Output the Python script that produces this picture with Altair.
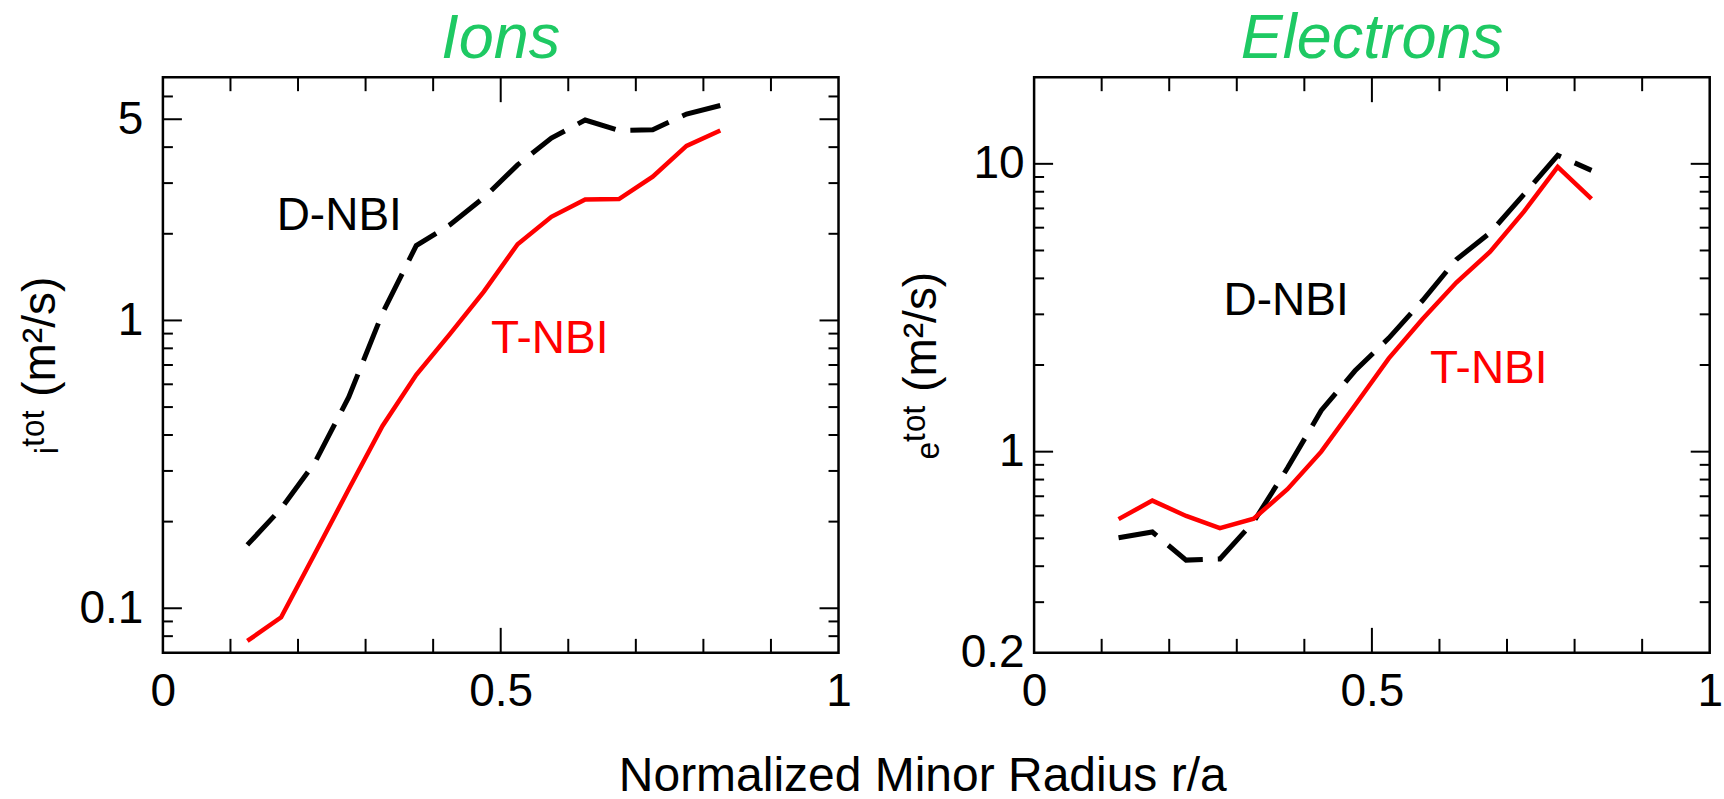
import altair as alt
import pandas as pd

FONT = "Liberation Sans"
GREEN = "#1ec963"

# ---- data ----
r = [0.125, 0.175, 0.225, 0.275, 0.325, 0.375, 0.425, 0.475,
     0.525, 0.575, 0.625, 0.675, 0.725, 0.775, 0.825]

ions_d = [0.166, 0.222, 0.321, 0.541, 1.06, 1.82, 2.15, 2.67,
          3.47, 4.30, 4.97, 4.57, 4.60, 5.21, 5.58]
ions_t = [0.077, 0.093, 0.155, 0.259, 0.43, 0.647, 0.898, 1.26,
          1.84, 2.29, 2.63, 2.64, 3.16, 4.04, 4.57]

elec_d = [0.502, 0.526, 0.42, 0.424, 0.571, 0.877, 1.39, 1.91,
          2.48, 3.35, 4.65, 5.76, 7.83, 10.7, 9.49]
elec_t = [0.583, 0.676, 0.598, 0.542, 0.585, 0.741, 1.0, 1.45,
          2.11, 2.89, 3.87, 4.95, 6.82, 9.76, 7.55]

# tick values
x_labels = [0, 0.5, 1]
x_major = [0.5]
x_minor = [0.1, 0.2, 0.3, 0.4, 0.6, 0.7, 0.8, 0.9]

ions_domain = [0.07, 7]
ions_ylabels = [0.1, 1, 5]
ions_ymajor = [0.1, 1, 5]
ions_yminor = [0.08, 0.09, 0.2, 0.3, 0.4, 0.5, 0.6, 0.7, 0.8, 0.9, 2, 3, 4, 6]

elec_domain = [0.2, 20]
elec_ylabels = [0.2, 1, 10]
elec_ymajor = [1, 10]
elec_yminor = [0.3, 0.4, 0.5, 0.6, 0.7, 0.8, 0.9, 2, 3, 4, 5, 6, 7, 8, 9]

ann_labels = ["D-NBI", "T-NBI"]
ann_colors = ["black", "red"]
ions_ann_x = [0.261, 0.5725]
ions_ann_y = [2.30, 0.865]
elec_ann_x = [0.373, 0.673]
elec_ann_y = [3.35, 1.93]

W, H = 676, 576
MAJ, MIN = 19, 10


def panel(title, dvals, tvals, ydomain, ylabels, ymajor, yminor, ytitle,
          ann_x, ann_y, label_pad):
    xs = alt.Scale(domain=[0, 1], nice=False, zero=False)
    ys = alt.Scale(type="log", domain=ydomain, nice=False)
    xaxis = alt.Axis(values=x_labels, format="~g", title=None, domain=False,
                     ticks=False, tickSize=0, grid=False, labelFlush=False,
                     labelOverlap=False, labelFontSize=46, labelFont=FONT,
                     labelColor="black", labelPadding=17)
    yaxis = alt.Axis(values=ylabels, format="~g", title=ytitle, domain=False,
                     ticks=False, tickSize=0, grid=False, labelFlush=False,
                     labelOverlap=False, labelFontSize=46, labelFont=FONT,
                     labelColor="black", labelPadding=label_pad,
                     titleFontSize=46, titleFont=FONT, titleFontWeight="normal",
                     titleColor="black", titlePadding=15)

    def X(f="r"):
        return alt.X(f"{f}:Q", scale=xs, axis=xaxis)

    def Y(f="value"):
        return alt.Y(f"{f}:Q", scale=ys, axis=yaxis)

    ddf = pd.DataFrame({"r": r, "value": dvals})
    tdf = pd.DataFrame({"r": r, "value": tvals})
    line_d = alt.Chart(ddf).mark_line(color="black", strokeWidth=5,
                                      strokeDash=[40, 15]).encode(x=X(), y=Y())
    line_t = alt.Chart(tdf).mark_line(color="#ff0000", strokeWidth=4.5).encode(x=X(), y=Y())

    layers = []
    for vals, L in ((x_major, 25), (x_minor, 14)):
        df = pd.DataFrame({"r": vals})
        layers.append(alt.Chart(df).mark_rule(color="black", strokeWidth=2).encode(
            x=X(), y=alt.value(0), y2=alt.value(L)))
        layers.append(alt.Chart(df).mark_rule(color="black", strokeWidth=2).encode(
            x=X(), y=alt.value(H - L), y2=alt.value(H)))
    for vals, L in ((ymajor, MAJ), (yminor, MIN)):
        df = pd.DataFrame({"value": vals})
        layers.append(alt.Chart(df).mark_rule(color="black", strokeWidth=2).encode(
            y=Y(), x=alt.value(0), x2=alt.value(L)))
        layers.append(alt.Chart(df).mark_rule(color="black", strokeWidth=2).encode(
            y=Y(), x=alt.value(W - L), x2=alt.value(W)))

    adf = pd.DataFrame({"r": ann_x, "value": ann_y, "label": ann_labels,
                        "col": ann_colors})
    text = alt.Chart(adf).mark_text(fontSize=46, font=FONT, align="center",
                                    baseline="middle").encode(
        x=X(), y=Y(), text="label:N", color=alt.Color("col:N", scale=None))

    tdf_title = pd.DataFrame({"t": [title]})
    ttl = alt.Chart(tdf_title).mark_text(
        fontSize=63, font=FONT, fontStyle="italic", color=GREEN,
        align="center", baseline="alphabetic").encode(
        text="t:N", x=alt.value(W / 2), y=alt.value(-19))

    return alt.layer(line_d, line_t, *layers, text, ttl).properties(
        width=W, height=H)


left = panel("Ions", ions_d, ions_t, ions_domain, ions_ylabels, ions_ymajor,
             ions_yminor, "ᵢᵗᵒᵗ (m²/s)", ions_ann_x, ions_ann_y, 20)
right = panel("Electrons", elec_d, elec_t, elec_domain, elec_ylabels, elec_ymajor,
              elec_yminor, "ₑᵗᵒᵗ (m²/s)", elec_ann_x, elec_ann_y, 10)

chart = alt.hconcat(
    left, right, spacing=195.7, bounds="flush",
    title=alt.TitleParams("Normalized Minor Radius r/a", orient="bottom",
                          anchor="middle", fontSize=48, font=FONT,
                          fontWeight="normal", color="black", offset=37, dx=53),
).properties(
    padding={"left": 15, "top": 6, "right": 0, "bottom": 0},
    background="white",
).configure_view(stroke="black", strokeWidth=2.5)

chart.save("out.html", embed_options={"renderer": "svg", "actions": False})
